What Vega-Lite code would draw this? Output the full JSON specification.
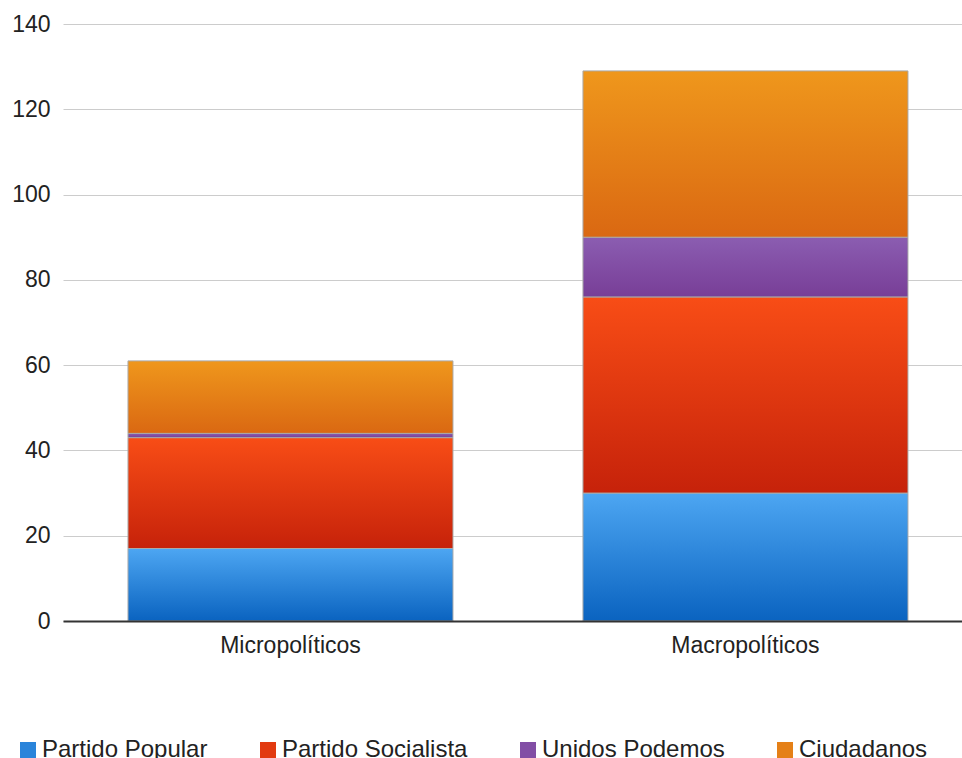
{
  "$schema": "https://vega.github.io/schema/vega-lite/v6.json",
  "autosize": {"type": "none"},
  "padding": {"left": 63, "top": 24, "right": 0, "bottom": 137},
  "width": 899,
  "height": 597,
  "background": "white",
  "config": {
    "view": {"stroke": null},
    "font": "Liberation Sans"
  },
  "data": {
    "values": [
      {"categoria": "Micropolíticos", "partido": "Partido Popular", "orden": 1, "diputados": 17},
      {"categoria": "Micropolíticos", "partido": "Partido Socialista", "orden": 2, "diputados": 26},
      {"categoria": "Micropolíticos", "partido": "Unidos Podemos", "orden": 3, "diputados": 1},
      {"categoria": "Micropolíticos", "partido": "Ciudadanos", "orden": 4, "diputados": 17},
      {"categoria": "Macropolíticos", "partido": "Partido Popular", "orden": 1, "diputados": 30},
      {"categoria": "Macropolíticos", "partido": "Partido Socialista", "orden": 2, "diputados": 46},
      {"categoria": "Macropolíticos", "partido": "Unidos Podemos", "orden": 3, "diputados": 14},
      {"categoria": "Macropolíticos", "partido": "Ciudadanos", "orden": 4, "diputados": 39}
    ]
  },
  "encoding": {
    "x": {
      "field": "categoria",
      "type": "nominal",
      "sort": ["Micropolíticos", "Macropolíticos"],
      "scale": {"paddingInner": 0.2857, "paddingOuter": 0.1308, "align": 0.546},
      "axis": {
        "title": null,
        "labelAngle": 0,
        "labelFontSize": 23,
        "labelColor": "#222222",
        "labelPadding": 13,
        "ticks": false,
        "domainColor": "#333333",
        "domainWidth": 2,
        "zindex": 2
      }
    },
    "y": {
      "field": "diputados",
      "type": "quantitative",
      "stack": "zero",
      "scale": {"domain": [0, 140], "nice": false},
      "axis": {
        "title": null,
        "values": [0, 20, 40, 60, 80, 100, 120, 140],
        "labelFontSize": 23,
        "labelColor": "#222222",
        "labelPadding": 13,
        "ticks": false,
        "domain": false,
        "gridColor": "#cccccc",
        "gridWidth": 1
      }
    },
    "order": {"field": "orden", "type": "quantitative"}
  },
  "layer": [
    {
      "mark": {"type": "bar"},
      "encoding": {
        "color": {
          "field": "partido",
          "type": "nominal",
          "scale": {
            "domain": ["Partido Popular", "Partido Socialista", "Unidos Podemos", "Ciudadanos"],
            "range": ["#2a84da", "#e23a10", "#824ea5", "#e58017"]
          },
          "legend": {
            "title": null,
            "orient": "none",
            "legendX": -47,
            "legendY": 714,
            "direction": "horizontal",
            "columns": 4,
            "columnPadding": 48,
            "symbolType": "square",
            "symbolSize": 256,
            "symbolStrokeWidth": 0,
            "symbolOpacity": 1,
            "labelFontSize": 24,
            "labelColor": "#222222",
            "labelOffset": 2,
            "labelLimit": 400
          }
        }
      }
    },
    {
      "mark": {"type": "bar", "stroke": "#aaaaaa", "strokeWidth": 1},
      "encoding": {
        "detail": {"field": "partido", "type": "nominal"},
        "color": {
          "condition": [
            {"test": "datum.partido === 'Partido Popular'", "value": {"gradient": "linear", "x1": 0, "y1": 0, "x2": 0, "y2": 1, "stops": [{"offset": 0, "color": "#4da6f2"}, {"offset": 1, "color": "#0a63c0"}]}},
            {"test": "datum.partido === 'Partido Socialista'", "value": {"gradient": "linear", "x1": 0, "y1": 0, "x2": 0, "y2": 1, "stops": [{"offset": 0, "color": "#f84d16"}, {"offset": 1, "color": "#c6220a"}]}},
            {"test": "datum.partido === 'Unidos Podemos'", "value": {"gradient": "linear", "x1": 0, "y1": 0, "x2": 0, "y2": 1, "stops": [{"offset": 0, "color": "#8b5db1"}, {"offset": 1, "color": "#783e97"}]}}
          ],
          "value": {"gradient": "linear", "x1": 0, "y1": 0, "x2": 0, "y2": 1, "stops": [{"offset": 0, "color": "#ef971c"}, {"offset": 1, "color": "#da6812"}]}
        }
      }
    }
  ]
}
